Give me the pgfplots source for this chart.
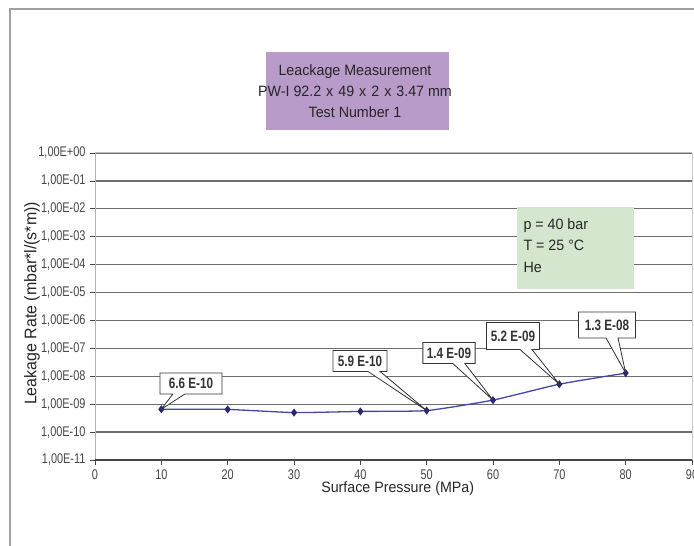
\documentclass[border=0pt]{standalone}
\usepackage{fontspec}
\setmainfont{Liberation Sans}[FakeStretch=0.95]
\newfontfamily\narrowfont{Liberation Sans}[FakeStretch=0.78]
\usepackage{pgfplots}
\pgfplotsset{compat=1.18}
\usetikzlibrary{shapes.callouts}
\definecolor{titlebox}{RGB}{185,155,202}
\definecolor{notebox}{RGB}{212,230,206}
\definecolor{gridc}{RGB}{110,110,110}
\definecolor{linec}{RGB}{70,70,170}
\definecolor{markc}{RGB}{40,40,120}
\definecolor{tickc}{RGB}{70,70,70}
\definecolor{framec}{RGB}{160,160,160}
\begin{document}
\begin{tikzpicture}[x=1pt,y=1pt]
\useasboundingbox (0,0) rectangle (694,546);
\draw[framec, line width=2pt] (10,-5) -- (10,537) -- (700,537);
\begin{axis}[
  at={(95pt,86pt)}, anchor=south west,
  width=597pt, height=307pt, scale only axis,
  xmin=0, xmax=90,
  ymode=log, ymin=1e-11, ymax=1,
  xtick={0,10,...,90},
  ytick={1e-11,1e-10,1e-9,1e-8,1e-7,1e-6,1e-5,1e-4,1e-3,1e-2,1e-1,1},
  yticklabels={{1,00E-11},{1,00E-10},{1,00E-09},{1,00E-08},{1,00E-07},{1,00E-06},{1,00E-05},{1,00E-04},{1,00E-03},{1,00E-02},{1,00E-01},{1,00E+00}},
  yminorticks=false,
  ymajorgrids=true,
  grid style={gridc, line width=1.2pt},
  axis line style={draw=none},
  tick pos=left,
  tick style={tickc, line width=0.8pt},
  tick align=outside,
  major tick length=5pt,
  xticklabel style={font=\narrowfont\fontsize{14}{16}\selectfont, text=tickc, yshift=-1pt},
  yticklabel style={font=\narrowfont\fontsize{14}{16}\selectfont, text=tickc, xshift=-1pt},
  /pgf/number format/assume math mode=true,
  xlabel={Surface Pressure (MPa)},
  ylabel={Leakage Rate (mbar*l/(s*m))},
  xlabel style={font=\fontsize{15}{17}\selectfont, text=black!85, at={(axis description cs:0.507,0)}, anchor=center, yshift=-29pt},
  ylabel style={font=\fontsize{16.8}{18}\selectfont, text=black!85, at={(axis description cs:-0.1055,0.51)}, anchor=center},
  clip=false,
]
\draw[gray!60, line width=0.8pt] (axis cs:0,1e-11) -- (axis cs:0,1);
\draw[gray!40, line width=0.8pt] (axis cs:90,1e-11) -- (axis cs:90,1);
\draw[gray!50, line width=1pt] (axis cs:0,1) -- (axis cs:90,1);
\draw[tickc, line width=1.2pt] (axis cs:0,1e-11) -- (axis cs:90,1e-11);
\addplot[linec, line width=1.3pt, smooth, tension=0.3, mark=diamond*, mark size=3pt, mark options={fill=markc, draw=markc}]
  coordinates {(10,6.6e-10) (20,6.5e-10) (30,5.0e-10) (40,5.5e-10) (50,5.9e-10) (60,1.4e-9) (70,5.2e-9) (80,1.3e-8)};
\coordinate (p1) at (axis cs:10,6.6e-10);
\coordinate (p5) at (axis cs:50,5.9e-10);
\coordinate (p6) at (axis cs:60,1.4e-9);
\coordinate (p7) at (axis cs:70,5.2e-9);
\coordinate (p8) at (axis cs:80,1.3e-8);
\end{axis}
% title box
\fill[titlebox] (266,416) rectangle (449,494);
\node[align=center, font=\fontsize{15}{21}\selectfont, text=black!85] at (355,455) {Leackage Measurement\\PW-I 92.2\hspace{5pt}x\hspace{5pt}49\hspace{5pt}x\hspace{5pt}2\hspace{5pt}x\hspace{5pt}3.47 mm\\Test Number 1};
% note box
\fill[notebox] (517,257) rectangle (634,339);
\node[align=left, anchor=north west, font=\fontsize{15}{21.5}\selectfont, text=black!85] at (520,331) {p = 40 bar\\T = 25 °C\\He};
% callouts
\tikzset{cb/.style={rectangle callout, draw=black!80, line width=0.8pt, fill=white, font=\narrowfont\fontsize{15}{17}\selectfont\bfseries, text=black!80, minimum height=21pt, inner xsep=4pt, callout pointer width=12pt}}
\node[cb, minimum width=62pt, callout absolute pointer=(p1)] at (191,162.5) {6.6 E-10};
\node[cb, minimum width=54pt, callout absolute pointer=(p5)] at (360,185) {5.9 E-10};
\node[cb, minimum width=52pt, callout absolute pointer=(p6)] at (449,193) {1.4 E-09};
\node[cb, minimum width=53pt, minimum height=27pt, callout absolute pointer=(p7)] at (513,210) {5.2 E-09};
\node[cb, minimum width=57pt, minimum height=26pt, callout absolute pointer=(p8)] at (607,221) {1.3 E-08};
\end{tikzpicture}
\end{document}
